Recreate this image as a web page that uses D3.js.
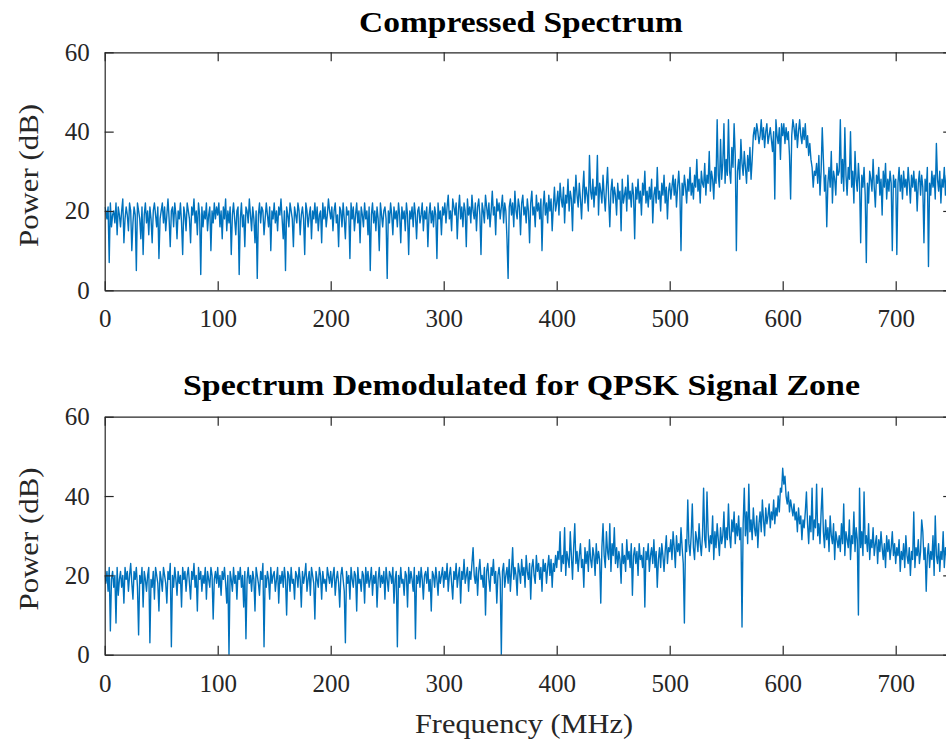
<!DOCTYPE html>
<html><head><meta charset="utf-8">
<script src="https://cdn.jsdelivr.net/npm/d3@7"></script>
<style>
body{margin:0;background:#fff}
svg{display:block}
text{font-family:"Liberation Serif","Times New Roman",serif}
</style>
</head><body>
<svg id="chart" width="946" height="742"></svg>
<script>
// Frequency step of the spectra (MHz per sample), starting at 0 MHz
const freqStep = 1;

// Power (dB) of the compressed spectrum, one value per MHz (0..750)
const compressedPower = [
21,20,18,21,7,22,16,19,20,17, 22,14,21,19,16,20,23,12,18,21, 19,15,22,20,10,17,21,19,5,22, 20,18,13,21,9,19,22,17,20,14, 21,18,12,20,22,19,16,21,8,18,
20,22,17,21,15,19,23,18,11,20, 21,16,22,19,13,20,18,22,17,9, 21,19,15,22,20,18,12,21,19,23, 17,20,14,22,19,4,21,16,20,18, 22,15,19,21,10,20,17,22,18,21,
19,22,16,20,13,21,18,23,15,20, 17,21,9,19,22,18,14,20,21,4, 18,22,16,19,11,21,20,17,23,19, 15,21,18,12,20,3,19,22,17,21, 20,14,18,22,19,16,21,10,20,18,
22,17,20,15,21,19,23,18,13,20, 5,21,19,16,22,20,18,11,21,19, 17,22,20,14,19,21,18,9,22,20, 16,19,21,13,20,18,22,17,21,15, 19,20,12,22,18,21,16,19,23,20,
18,21,15,20,22,17,19,11,21,20, 16,22,18,13,21,19,20,8,22,18, 21,15,19,22,17,20,12,21,19,16, 22,18,20,14,21,5,19,22,17,20, 15,21,18,10,22,19,16,20,21,18,
3,20,17,22,19,14,21,18,20,16, 22,19,12,21,18,20,15,22,19,9, 20,18,21,16,22,19,13,20,21,17, 19,22,15,20,18,21,11,19,22,17, 20,16,21,19,8,22,18,20,14,21,
19,22,17,21,24,18,20,15,23,21, 19,22,13,20,24,18,21,16,22,20, 11,23,19,21,17,24,20,18,22,15, 21,23,19,9,22,20,17,24,21,18, 22,16,20,25,19,21,14,23,20,22,
18,21,24,17,22,20,13,3,21,23, 19,22,16,25,20,18,23,21,14,22, 24,19,21,17,23,20,12,22,25,19, 21,16,24,20,22,18,23,10,21,25, 19,22,17,24,20,23,15,21,26,20,
22,25,19,27,23,21,26,17,24,22, 28,20,25,23,15,26,22,29,24,21, 27,23,18,25,30,22,26,24,20,34, 25,23,28,21,26,24,34,19,27,25, 22,29,24,20,26,31,23,16,25,28,
22,26,24,19,27,23,25,15,28,22, 24,26,20,29,23,25,21,27,24,13, 26,23,28,22,25,19,27,24,30,22, 25,21,26,23,28,17,24,26,22,31, 23,25,20,27,24,29,22,26,18,25,
27,23,26,29,24,28,21,26,30,25, 10,27,24,29,26,22,28,25,31,24, 27,23,29,26,33,25,28,22,30,27, 26,32,24,29,27,35,25,30,28,23, 31,27,43,29,26,38,28,32,42,27,
33,29,43,30,27,36,31,42,34,10, 30,33,28,38,32,29,35,31,27,34, 30,36,28,33,39,41,38,42,40,37, 39,43,38,41,36,40,42,37,39,41, 38,35,40,23,43,39,37,41,33,42,
39,42,37,41,38,40,34,23,39,43, 41,38,42,36,40,43,39,37,41,38, 42,36,39,34,37,33,31,26,30,29, 32,27,34,24,30,41,33,25,29,16, 27,31,26,35,22,30,28,24,32,29,
30,43,27,33,25,41,29,24,31,28, 40,26,30,22,35,28,25,32,27,12, 29,26,31,24,7,27,22,30,28,25, 33,26,21,29,27,31,24,28,19,30, 26,32,23,28,25,30,27,10,29,26,
28,9,27,31,25,29,23,30,26,28, 24,31,27,22,29,26,30,25,28,20, 27,30,24,29,26,12,28,25,31,6, 27,24,30,26,29,23,37,28,25,30, 22,28,26,31,24,29,27,14,30,26,
27
];

// Power (dB) of the spectrum demodulated for the QPSK signal zone (0..750 MHz)
const demodulatedPower = [
20,18,21,16,22,6,19,21,17,20, 8,22,15,19,21,17,20,13,22,19, 21,16,20,23,18,14,21,19,22,17, 5,20,18,22,12,21,19,16,20,22, 3,19,17,21,14,22,20,18,11,21,
19,16,22,20,18,13,21,19,23,2, 20,17,22,19,15,21,18,20,12,22, 19,21,16,20,22,18,14,21,19,23, 17,20,11,22,19,21,16,20,18,22, 14,21,19,17,22,20,9,19,21,18,
22,17,20,15,21,19,22,18,13,20, 0,21,19,16,22,18,20,14,21,19, 22,17,20,12,21,4,19,22,18,20, 16,21,19,11,22,20,18,15,21,19, 23,2,20,17,21,19,14,22,18,20,
21,16,19,22,13,20,18,21,17,22, 19,10,21,20,16,22,18,19,14,21, 20,17,22,19,12,21,18,20,23,16, 19,21,15,22,20,18,9,21,19,17, 22,20,14,21,18,19,16,22,20,18,
21,17,20,22,15,19,21,18,12,20, 22,19,16,3,21,18,20,14,22,19, 17,21,20,11,22,18,19,16,21,20, 13,22,18,21,17,19,22,15,20,18, 21,12,19,22,17,20,18,21,14,22,
19,16,21,20,18,22,13,19,21,2, 20,17,22,18,19,15,21,20,12,22, 18,21,19,16,22,4,20,18,21,17, 22,19,14,20,21,18,22,16,19,11, 21,20,17,22,19,15,21,18,20,22,
17,21,19,23,16,20,22,18,14,21, 19,23,17,20,22,13,21,19,24,18, 20,22,16,21,19,23,27,20,18,22, 15,21,24,19,20,17,22,10,21,23, 19,16,22,20,24,18,21,13,20,22,
19,0,21,23,17,20,22,18,24,16, 21,27,19,22,20,15,23,21,18,24, 20,22,17,25,21,19,23,14,22,24, 20,18,25,21,23,19,22,16,24,21, 23,18,22,25,20,24,17,23,21,25,
22,26,24,31,21,25,23,32,20,26, 24,22,31,25,19,27,33,23,26,21, 25,28,22,24,17,27,23,26,21,29, 24,22,27,25,20,28,23,26,24,13, 27,33,25,22,31,26,24,33,21,28,
25,32,23,27,22,26,24,18,28,23, 25,21,29,24,26,22,28,15,25,27, 23,26,20,28,24,25,22,27,12,26, 24,28,21,25,27,23,29,22,26,17, 24,27,22,28,25,21,26,30,23,27,
26,29,24,31,27,22,30,26,28,25, 32,27,23,8,29,26,39,28,25,30, 38,27,24,31,29,26,33,28,25,30, 42,29,27,41,31,26,30,28,35,24, 31,27,33,29,25,32,28,30,36,27,
32,29,38,30,27,34,31,36,28,33, 30,35,29,32,7,33,42,30,36,28, 43,31,34,29,37,32,30,35,27,33, 36,31,39,34,30,37,33,35,38,32, 36,34,39,33,37,35,40,36,42,41,
47,43,45,40,38,41,36,39,37,35, 38,34,36,31,37,33,35,29,34,32, 36,41,33,28,35,31,42,29,34,32, 43,30,33,28,36,42,31,27,34,29, 32,26,35,30,28,33,24,31,29,27,
30,26,33,28,38,25,31,29,27,34, 24,30,28,36,26,32,29,10,42,27, 31,25,41,28,30,26,33,24,29,27, 32,25,28,30,23,29,26,31,27,24, 28,22,30,26,29,24,27,31,25,28,
23,27,25,29,21,26,24,28,22,30, 25,23,27,20,26,24,36,22,27,25, 29,23,26,34,31,24,27,16,25,28, 22,26,24,30,20,35,25,23,28,21, 26,24,31,22,27,25,14,28,23,26,
24
];

const xTickValues = [0,100,200,300,400,500,600,700];
const yTickValues = [0,20,40,60];
const xDomain = [0,750];
const yDomain = [0,60];
const panelTitles = ["Compressed Spectrum","Spectrum Demodulated for QPSK Signal Zone"];
const yLabelText = "Power (dB)";
const xLabelText = "Frequency (MHz)";

const svg = d3.select("#chart");
const axisColor = "#262626";
const lineColor = "#0072BD";
const L = 104.7, R = 952.2;
const panels = [
  {top:52.3, bottom:290.3, data:compressedPower, title:panelTitles[0], titleY:32, titleX:521, titleLen:324, ylabY:175.5},
  {top:416.7, bottom:654.7, data:demodulatedPower, title:panelTitles[1], titleY:395, titleX:521.5, titleLen:677, ylabY:539}
];

const x = d3.scaleLinear().domain(xDomain).range([L,R]);

panels.forEach((p,pi)=>{
  const y = d3.scaleLinear().domain(yDomain).range([p.bottom,p.top]);
  const g = svg.append("g");
  const clipId = "clip"+pi;
  svg.append("clipPath").attr("id",clipId).append("rect")
    .attr("x",L).attr("y",p.top).attr("width",R-L).attr("height",p.bottom-p.top);

  // data line
  const line = d3.line().x((d,i)=>x(i*freqStep)).y(d=>y(d));
  g.append("path").datum(p.data)
    .attr("d",line).attr("fill","none")
    .attr("stroke",lineColor).attr("stroke-width",1.4)
    .attr("stroke-linejoin","round")
    .attr("clip-path",`url(#${clipId})`);

  // axes
  const tickLen = 9;
  const ax = g.append("g").attr("transform",`translate(0,${p.bottom})`)
    .call(d3.axisBottom(x).tickValues(xTickValues).tickSizeInner(-tickLen).tickSizeOuter(0));
  ax.selectAll("text").attr("y",37).attr("dy",null);
  const axT = g.append("g").attr("transform",`translate(0,${p.top})`)
    .call(d3.axisTop(x).tickValues(xTickValues).tickSizeInner(-tickLen).tickSizeOuter(0).tickFormat(""));
  const ay = g.append("g").attr("transform",`translate(${L},0)`)
    .call(d3.axisLeft(y).tickValues(yTickValues).tickSizeInner(-tickLen).tickSizeOuter(0));
  ay.selectAll("text").attr("x",-15).attr("y",8).attr("dy",null);
  const ayR = g.append("g").attr("transform",`translate(${R},0)`)
    .call(d3.axisRight(y).tickValues(yTickValues).tickSizeInner(-tickLen).tickSizeOuter(0).tickFormat(""));
  [ax,axT,ay,ayR].forEach(a=>{
    a.selectAll("path.domain").attr("stroke",axisColor).attr("stroke-width",1.2);
    a.selectAll("line").attr("stroke",axisColor).attr("stroke-width",1.2);
    a.selectAll("text").attr("fill",axisColor).attr("font-size",25)
      .attr("font-family","'Liberation Serif',serif");
  });

  // title
  svg.append("text").attr("x",p.titleX).attr("y",p.titleY)
    .attr("text-anchor","middle").attr("font-size",29).attr("font-weight","bold")
    .attr("fill","#000").attr("textLength",p.titleLen).attr("lengthAdjust","spacingAndGlyphs")
    .text(p.title);

  // y label
  svg.append("text").attr("transform",`translate(38,${p.ylabY}) rotate(-90)`)
    .attr("text-anchor","middle").attr("font-size",28).attr("fill",axisColor)
    .attr("textLength",143).attr("lengthAdjust","spacingAndGlyphs")
    .text(yLabelText);
});

svg.append("text").attr("x",524).attr("y",733)
  .attr("text-anchor","middle").attr("font-size",28).attr("fill",axisColor)
  .attr("textLength",218).attr("lengthAdjust","spacingAndGlyphs")
  .text(xLabelText);
</script>
</body></html>
